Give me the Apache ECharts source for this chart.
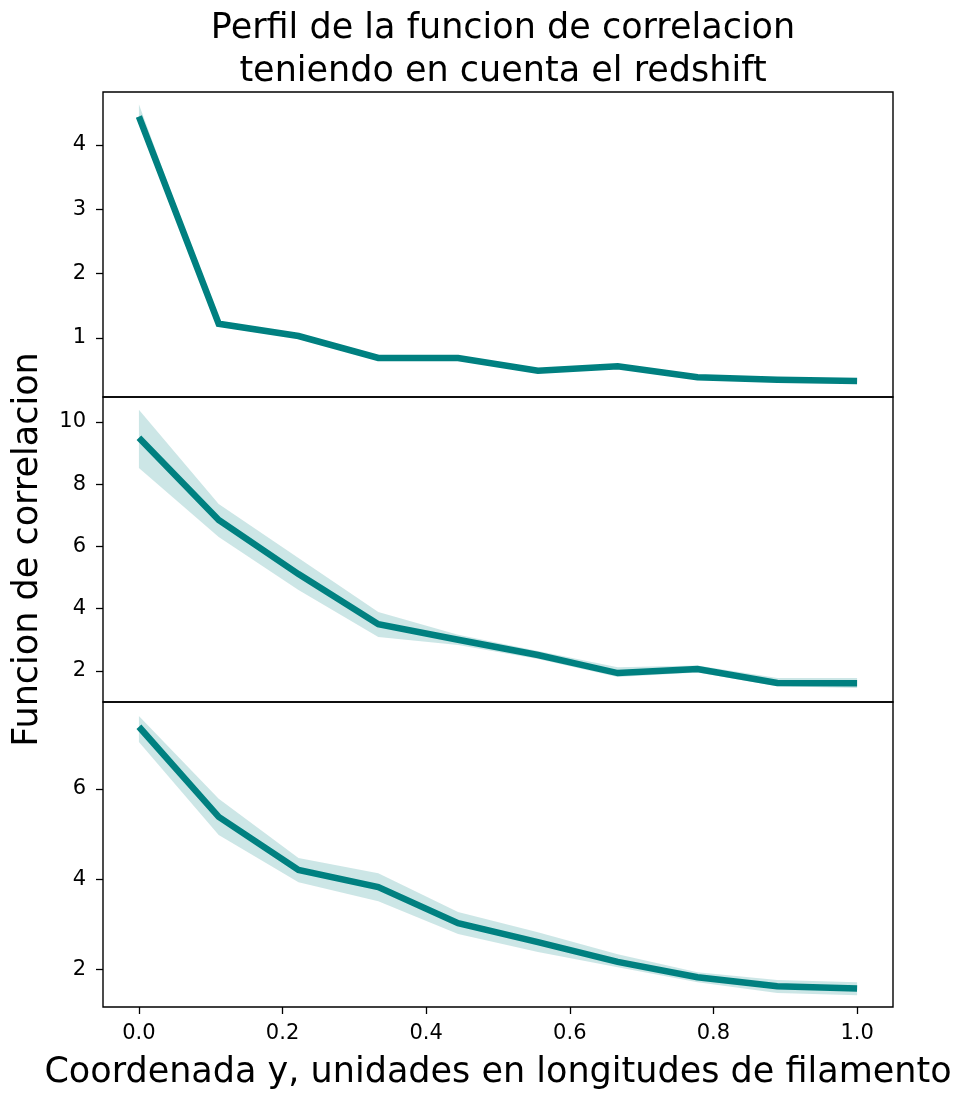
<!DOCTYPE html>
<html><head><meta charset="utf-8">
<script src="https://cdn.jsdelivr.net/npm/echarts@6/dist/echarts.min.js"></script>
<style>html,body{margin:0;padding:0;background:#fff}#c{width:962px;height:1093px}</style>
</head><body><div id="c"></div>
<script>
const xs = [0, 0.1111, 0.2222, 0.3333, 0.4444, 0.5556, 0.6667, 0.7778, 0.8889, 1.0];
const xTicks = [0, 0.2, 0.4, 0.6, 0.8, 1.0];

const p1Mean  = [4.44, 1.22, 1.03, 0.69, 0.69, 0.49, 0.56, 0.39, 0.35, 0.33];
const p1Lower = [4.35, 1.20, 1.01, 0.66, 0.67, 0.46, 0.53, 0.37, 0.34, 0.32];
const p1Upper = [4.63, 1.25, 1.05, 0.72, 0.72, 0.52, 0.60, 0.42, 0.36, 0.34];
const p1Ticks = [1, 2, 3, 4];

const p2Mean  = [9.49, 6.85, 5.11, 3.50, 3.00, 2.51, 1.93, 2.06, 1.61, 1.60];
const p2Lower = [8.52, 6.30, 4.60, 3.09, 2.83, 2.38, 1.80, 1.95, 1.51, 1.45];
const p2Upper = [10.39, 7.36, 5.63, 3.89, 3.16, 2.64, 2.12, 2.17, 1.77, 1.77];
const p2Ticks = [2, 4, 6, 8, 10];

const p3Mean  = [7.38, 5.38, 4.20, 3.82, 3.02, 2.60, 2.16, 1.82, 1.62, 1.57];
const p3Lower = [7.04, 4.98, 3.93, 3.51, 2.78, 2.38, 2.04, 1.71, 1.47, 1.42];
const p3Upper = [7.62, 5.78, 4.47, 4.13, 3.27, 2.82, 2.33, 1.93, 1.76, 1.71];
const p3Ticks = [2, 4, 6];

const panels = [
  {mean: p1Mean, lower: p1Lower, upper: p1Upper, ticks: p1Ticks, min: 0.083, max: 4.82},
  {mean: p2Mean, lower: p2Lower, upper: p2Upper, ticks: p2Ticks, min: 1.0, max: 10.8},
  {mean: p3Mean, lower: p3Lower, upper: p3Upper, ticks: p3Ticks, min: 1.16, max: 7.93}
];

const FONT = 'DejaVu Sans';
const TEAL = '#008080';
const BAND = 'rgba(0,128,128,0.2)';
const tops = [92, 397, 702];
const H = 305;

function bandRenderer(p) {
  return function (params, api) {
    if (params.dataIndex !== 0) return null;
    const pts = [];
    for (let k = 0; k < xs.length; k++) pts.push(api.coord([xs[k], p.upper[k]]));
    for (let k = xs.length - 1; k >= 0; k--) pts.push(api.coord([xs[k], p.lower[k]]));
    return {type: 'polygon', shape: {points: pts}, style: {fill: BAND, stroke: null}};
  };
}

const grids = [], xAxes = [], yAxes = [], series = [];
panels.forEach((p, i) => {
  grids.push({left: 103, width: 790, top: tops[i], height: H, show: true,
    borderColor: '#000', borderWidth: 1.4, backgroundColor: 'transparent', containLabel: false});
  const last = i === 2;
  xAxes.push({type: 'value', gridIndex: i, min: -0.05, max: 1.05,
    axisLine: {show: false, onZero: false}, splitLine: {show: false},
    axisTick: {show: last, customValues: xTicks, length: 7, lineStyle: {color: '#000', width: 1.3}},
    axisLabel: {show: last, customValues: xTicks, color: '#000', fontFamily: FONT, fontSize: 21, margin: 16,
      formatter: v => v.toFixed(1)},
    name: last ? 'Coordenada y, unidades en longitudes de filamento' : '',
    nameLocation: 'middle', nameGap: 48,
    nameTextStyle: {color: '#000', fontFamily: FONT, fontSize: 35}
  });
  yAxes.push({type: 'value', gridIndex: i, min: p.min, max: p.max,
    axisLine: {show: false, onZero: false}, splitLine: {show: false},
    axisTick: {show: true, customValues: p.ticks, length: 7, lineStyle: {color: '#000', width: 1.3}},
    axisLabel: {show: true, customValues: p.ticks, color: '#000', fontFamily: FONT, fontSize: 21, margin: 17},
    name: i === 1 ? 'Funcion de correlacion' : '',
    nameLocation: 'middle', nameRotate: 90, nameGap: 58,
    nameTextStyle: {color: '#000', fontFamily: FONT, fontSize: 35}
  });
  series.push({type: 'custom', xAxisIndex: i, yAxisIndex: i,
    data: xs.map((x, k) => [x, p.lower[k], p.upper[k]]),
    encode: {x: 0, y: [1, 2]}, renderItem: bandRenderer(p), silent: true, z: 1});
  series.push({type: 'line', xAxisIndex: i, yAxisIndex: i, data: xs.map((x, k) => [x, p.mean[k]]),
    symbol: 'none', lineStyle: {color: TEAL, width: 6.5, cap: 'butt', join: 'miter'}, z: 3});
});

const chart = echarts.init(document.getElementById('c'), null, {renderer: 'canvas'});
chart.setOption({
  animation: false,
  backgroundColor: '#fff',
  title: {text: 'Perfil de la funcion de correlacion\nteniendo en cuenta el redshift',
    left: 498, textAlign: 'center', top: 2,
    textStyle: {fontFamily: FONT, fontSize: 35, fontWeight: 'normal', color: '#000', lineHeight: 43}},
  grid: grids, xAxis: xAxes, yAxis: yAxes, series: series
});
</script></body></html>
